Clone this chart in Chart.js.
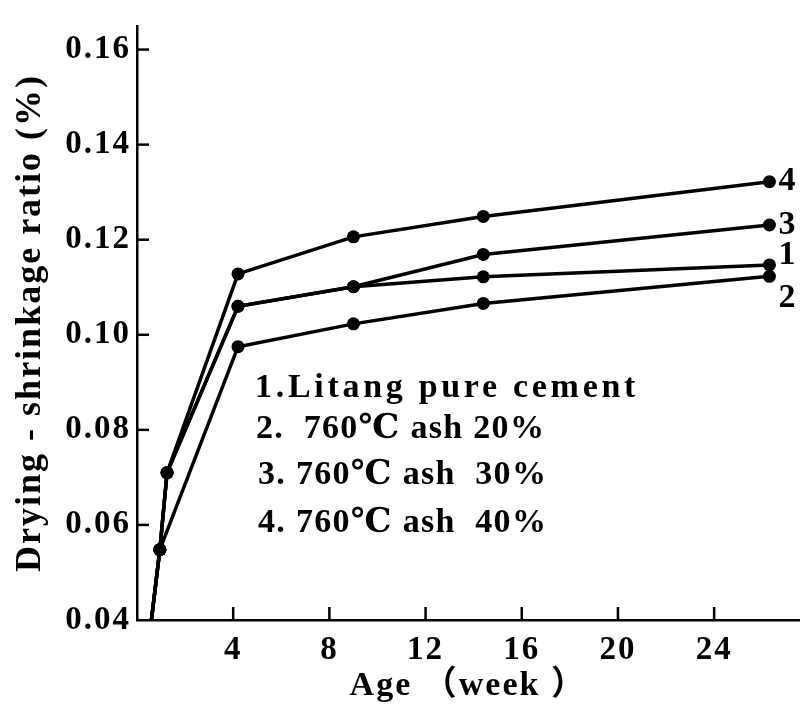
<!DOCTYPE html>
<html>
<head>
<meta charset="utf-8">
<script src="https://cdn.jsdelivr.net/npm/chart.js@4.4.1/dist/chart.umd.min.js"></script>
<style>
html,body{margin:0;padding:0;background:#fff;}
#wrap{width:806px;height:704px;position:relative;}
</style>
</head>
<body>
<div id="wrap"><canvas id="shrinkChart"></canvas></div>
<script>
/* ==========================================
        Drying-shrinkage vs age
========================================== */

// ages in weeks (first point is where the curve leaves the 0.04 axis)
const agesMain = [0.6, 0.95, 1.25, 4.2, 9.0, 14.4, 26.3];
const agesAsh20 = [0.6, 0.95, 4.2, 9.0, 14.4, 26.3];

// drying-shrinkage ratio (%)
const pureCement = [0.040, 0.0548, 0.0710, 0.1060, 0.1101, 0.1122, 0.1147];
const ash20 = [0.040, 0.0548, 0.0975, 0.1023, 0.1066, 0.1123];
const ash30 = [0.040, 0.0548, 0.0710, 0.1060, 0.1101, 0.1169, 0.1231];
const ash40 = [0.040, 0.0548, 0.0710, 0.1128, 0.1206, 0.1249, 0.1322];

const seriesNames = [
  "1.Litang pure cement",
  "2.  760\u2103 ash 20%",
  "3. 760\u2103 ash  30%",
  "4. 760\u2103 ash  40%"
];
const endTags = ["1", "2", "3", "4"];

const yTicks = [0.04, 0.06, 0.08, 0.10, 0.12, 0.14, 0.16];
const xTicks = [4, 8, 12, 16, 20, 24];

const SERIF = "'Liberation Serif', 'DejaVu Serif', 'Noto Sans CJK SC', serif";

const pairUp = (ages, vals) => ages.map((a, i) => ({x: a, y: vals[i]}));

const lineStyle = {
  borderColor: "#000",
  backgroundColor: "#000",
  borderWidth: 3.5,
  pointRadius: c => c.dataIndex === 0 ? 0 : 6.5,
  pointBorderWidth: 0,
  pointBackgroundColor: "#000",
  tension: 0,
  fill: false
};


/* ===============================
        Extra ink: inner ticks,
        key text, end numbers
================================ */

const inkPlugin = {
  id: "ink",
  beforeDraw(chart){
    chart.ctx.letterSpacing = "2px";
  },
  afterDraw(chart){
    const {ctx, chartArea: a, scales: {x, y}} = chart;
    ctx.save();
    ctx.strokeStyle = "#000";
    ctx.lineWidth = 2.5;

    yTicks.slice(1).forEach(v => {
      const py = y.getPixelForValue(v);
      ctx.beginPath();
      ctx.moveTo(a.left, py);
      ctx.lineTo(a.left + 12, py);
      ctx.stroke();
    });
    xTicks.forEach(v => {
      const px = x.getPixelForValue(v);
      ctx.beginPath();
      ctx.moveTo(px, a.bottom);
      ctx.lineTo(px, a.bottom - 13);
      ctx.stroke();
    });

    // key block inside the plot
    ctx.fillStyle = "#000";
    ctx.textAlign = "left";
    ctx.textBaseline = "middle";
    const rows = [
      {dx: 118, dy: 362, sp: "3.7px"},
      {dx: 119, dy: 403, sp: "1.3px"},
      {dx: 121, dy: 449, sp: "1.3px"},
      {dx: 121, dy: 497, sp: "1.3px"}
    ];
    seriesNames.forEach((name, i) => {
      ctx.letterSpacing = rows[i].sp;
      ctx.font = "bold 34px " + SERIF;
      ctx.fillText(name, a.left + rows[i].dx, a.top + rows[i].dy);
    });

    // numbers at the right end of each curve
    const tagShift = [-10, 22, 0, 0];
    ctx.letterSpacing = "0px";
    ctx.font = "bold 34px " + SERIF;
    chart.data.datasets.forEach((ds, i) => {
      const pts = chart.getDatasetMeta(i).data;
      const pt = pts[pts.length - 1];
      ctx.fillText(endTags[i], pt.x + 9, pt.y + tagShift[i]);
    });
    ctx.restore();
  }
};


/* ===============================
        Chart
================================ */

document.addEventListener("DOMContentLoaded", () => {

const canvas = document.getElementById("shrinkChart");

new Chart(canvas, {
  type: "line",
  data: {
    datasets: [
      Object.assign({label: seriesNames[0], data: pairUp(agesMain, pureCement)}, lineStyle),
      Object.assign({label: seriesNames[1], data: pairUp(agesAsh20, ash20)}, lineStyle),
      Object.assign({label: seriesNames[2], data: pairUp(agesMain, ash30)}, lineStyle),
      Object.assign({label: seriesNames[3], data: pairUp(agesMain, ash40)}, lineStyle)
    ]
  },
  options: {
    responsive: true,
    maintainAspectRatio: false,
    animation: false,
    layout: {padding: {top: 15, right: 0, left: 0, bottom: 0}},
    plugins: {
      legend: {display: false},
      tooltip: {enabled: false}
    },
    scales: {
      x: {
        type: "linear",
        min: 0,
        max: 27.55,
        afterBuildTicks: s => { s.ticks = xTicks.map(v => ({value: v})); },
        afterFit: s => { s.height = 84; },
        grid: {display: false, drawTicks: false},
        border: {display: true, color: "#000", width: 2.5},
        ticks: {
          color: "#000",
          padding: 11,
          autoSkip: false,
          maxRotation: 0,
          font: {family: SERIF, size: 33, weight: "bold"}
        },
        title: {
          display: true,
          text: "Age \uFF08week \uFF09",
          color: "#000",
          padding: {top: 0, bottom: 1},
          font: {family: SERIF, size: 34, weight: "bold", lineHeight: 1}
        }
      },
      y: {
        type: "linear",
        min: 0.04,
        max: 0.165,
        afterBuildTicks: s => { s.ticks = yTicks.map(v => ({value: v})); },
        afterFit: s => { s.width = 137; },
        grid: {display: false, drawTicks: false},
        border: {display: true, color: "#000", width: 2.5},
        ticks: {
          color: "#000",
          padding: 6,
          callback: v => v.toFixed(2),
          font: {family: SERIF, size: 33, weight: "bold"}
        },
        title: {
          display: true,
          text: "Drying - shrinkage ratio (%)",
          color: "#000",
          padding: {top: 9, bottom: 0},
          font: {family: SERIF, size: 36, weight: "bold", lineHeight: 1.2}
        }
      }
    }
  },
  plugins: [inkPlugin]
});

});
</script>
</body>
</html>
